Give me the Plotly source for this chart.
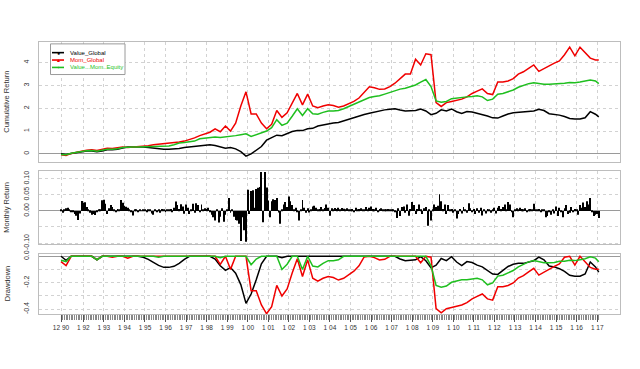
import numpy as np
import pandas as pd
import plotly.graph_objects as go

# ---------------- data ----------------
# cumulative returns, read at quarter ends (Dec 1990 ... Dec 2016) plus Feb 2017
value_global_cum = [0.00,
    -0.03, 0.02, 0.06, 0.08,
    0.12, 0.12, 0.09, 0.12,
    0.18, 0.18, 0.20, 0.26,
    0.30, 0.30, 0.31, 0.30,
    0.28, 0.25, 0.22, 0.20,
    0.20, 0.21, 0.24, 0.28,
    0.31, 0.33, 0.36, 0.38,
    0.40, 0.37, 0.30, 0.25,
    0.28, 0.22, 0.10, -0.10,
    0.00, 0.15, 0.32, 0.60,
    0.70, 0.82, 0.80, 0.90,
    0.98, 1.02, 1.02, 1.10,
    1.12, 1.22, 1.27, 1.33,
    1.35, 1.38, 1.45, 1.54,
    1.60, 1.68, 1.73, 1.78,
    1.84, 1.88, 1.93, 1.96,
    1.98, 1.92, 1.88, 1.89,
    1.90, 1.97, 1.88, 1.72,
    1.78, 1.93, 1.88, 1.97,
    1.85, 1.77, 1.86, 1.84,
    1.78, 1.74, 1.66, 1.58,
    1.57, 1.66, 1.75, 1.80,
    1.82, 1.82, 1.85, 1.88,
    1.96, 1.90, 1.76, 1.74,
    1.70, 1.64, 1.55, 1.53,
    1.53, 1.58, 1.85, 1.74,
    1.62]

mom_global_cum = [-0.04,
    -0.07, 0.02, 0.08, 0.12,
    0.16, 0.18, 0.15, 0.20,
    0.25, 0.24, 0.28, 0.30,
    0.28, 0.30, 0.30, 0.32,
    0.36, 0.40, 0.42, 0.44,
    0.46, 0.50, 0.52, 0.56,
    0.62, 0.70, 0.80, 0.86,
    0.95, 1.10, 0.97, 1.22,
    1.00, 1.35, 2.10, 2.72,
    1.75, 1.75, 1.35, 1.10,
    1.30, 1.90, 1.60, 1.80,
    2.25, 2.65, 2.15, 2.62,
    2.10, 2.02, 2.10, 2.15,
    2.12, 2.05, 2.10, 2.20,
    2.30, 2.45, 2.70, 2.94,
    2.90, 2.83, 2.85, 2.95,
    3.10, 3.29, 3.50, 3.50,
    4.15, 3.90, 4.39, 4.35,
    2.25, 2.08, 2.25, 2.30,
    2.35, 2.40, 2.50, 2.65,
    2.75, 2.85, 2.65, 2.60,
    3.15, 3.15, 3.20, 3.30,
    3.50, 3.60, 3.75, 3.90,
    3.62, 3.75, 3.85, 3.98,
    4.08, 4.35, 4.68, 4.30,
    4.68, 4.45, 4.20, 4.12,
    4.12]

value_mom_equity_cum = [-0.03,
    -0.04, 0.03, 0.08, 0.10,
    0.14, 0.15, 0.12, 0.16,
    0.20, 0.20, 0.22, 0.28,
    0.30, 0.30, 0.30, 0.31,
    0.32, 0.33, 0.32, 0.33,
    0.35, 0.40, 0.48, 0.50,
    0.52, 0.56, 0.66, 0.68,
    0.70, 0.74, 0.72, 0.74,
    0.78, 0.80, 0.84, 0.88,
    0.76, 0.84, 0.90, 1.00,
    1.15, 1.50, 1.25, 1.35,
    1.65, 1.98, 1.68, 1.98,
    1.76, 1.74, 1.82, 1.88,
    1.88, 1.90, 1.98, 2.08,
    2.20, 2.30, 2.40, 2.47,
    2.52, 2.55, 2.62, 2.70,
    2.78, 2.84, 2.88, 2.94,
    3.02, 3.15, 3.26, 2.95,
    2.32, 2.26, 2.30, 2.42,
    2.45, 2.50, 2.50, 2.52,
    2.55, 2.50, 2.34, 2.40,
    2.62, 2.65, 2.73, 2.80,
    2.92, 3.00, 3.08, 3.12,
    3.08, 3.05, 3.05, 3.06,
    3.10, 3.10, 3.13, 3.12,
    3.15, 3.18, 3.24, 3.20,
    3.08]

# monthly returns of Value_Global (Dec 1990 ... Feb 2017)
monthly_return = (
    [0.005] +
    [-0.006, 0.004, 0.008, 0.010, 0.004, -0.003, -0.002, -0.010, -0.015, -0.028, -0.008, 0.031] +  # 1991
    [0.025, 0.027, 0.012, 0.004, -0.006, -0.012, -0.010, -0.013, -0.004, 0.003, 0.002, 0.033] +    # 1992
    [0.035, 0.022, -0.010, 0.008, 0.018, 0.012, 0.005, -0.003, 0.006, 0.002, 0.034, 0.025] +      # 1993
    [0.016, 0.013, 0.010, 0.004, -0.002, -0.014, 0.003, 0.002, -0.003, 0.004, 0.001, 0.002] +     # 1994
    [0.002, -0.004, 0.003, 0.005, -0.008, -0.012, 0.004, -0.003, 0.002, -0.006, 0.006, 0.003] +   # 1995
    [-0.003, 0.004, 0.002, 0.006, -0.002, 0.010, 0.029, 0.018, 0.006, 0.021, 0.014, -0.009] +     # 1996
    [0.020, 0.010, -0.010, 0.005, 0.022, -0.006, 0.024, 0.018, -0.004, 0.020, 0.004, 0.008] +     # 1997
    [0.006, 0.010, -0.004, -0.012, -0.020, -0.030, 0.004, -0.036, -0.018, 0.008, -0.034, -0.012] + # 1998
    [0.004, 0.040, -0.006, 0.004, -0.018, -0.028, -0.030, -0.040, -0.094, -0.020, -0.060, -0.096] + # 1999
    [0.066, -0.010, 0.062, 0.064, 0.010, 0.068, 0.072, 0.074, 0.121, -0.035, 0.121, 0.073] +      # 2000
    [0.032, -0.020, 0.030, 0.036, 0.034, 0.040, -0.005, -0.040, 0.004, 0.020, 0.028, 0.012] +     # 2001
    [0.045, 0.030, 0.018, 0.005, 0.010, -0.004, -0.030, 0.004, 0.034, 0.010, -0.006, 0.008] +     # 2002
    [-0.005, 0.004, 0.014, 0.016, 0.010, 0.004, 0.006, 0.012, 0.003, 0.009, 0.020, 0.010] +      # 2003
    [-0.015, 0.008, 0.004, 0.009, 0.006, 0.010, 0.003, 0.009, 0.007, 0.002, 0.008, 0.005] +       # 2004
    [0.004, 0.006, -0.004, 0.010, 0.003, 0.006, 0.008, 0.002, 0.005, 0.012, 0.003, 0.010] +       # 2005
    [0.014, 0.006, 0.004, 0.010, -0.004, 0.006, 0.008, 0.003, 0.005, 0.004, 0.006, 0.002] +       # 2006
    [0.002, 0.004, -0.004, -0.022, 0.008, -0.016, 0.012, 0.014, -0.006, 0.020, -0.015, 0.006] +   # 2007
    [0.028, 0.018, -0.010, 0.006, 0.020, 0.004, -0.010, 0.008, 0.012, -0.046, 0.004, -0.030] +    # 2008
    [0.004, 0.020, 0.012, 0.016, 0.052, 0.030, 0.006, 0.020, -0.010, 0.018, 0.004, 0.006] +       # 2009
    [-0.006, 0.004, -0.024, -0.010, 0.006, -0.008, 0.012, 0.004, -0.006, 0.024, 0.008, -0.004] +  # 2010
    [0.006, -0.010, 0.008, -0.006, 0.010, -0.014, 0.004, -0.008, 0.006, 0.004, -0.006, 0.002] +   # 2011
    [0.010, -0.008, 0.010, 0.015, 0.006, 0.012, 0.020, 0.004, 0.028, 0.020, -0.004, -0.020] +     # 2012
    [0.004, 0.008, 0.002, 0.010, 0.006, 0.003, 0.008, -0.004, 0.005, 0.006, 0.002, 0.022] +       # 2013
    [0.004, 0.002, 0.006, -0.004, 0.003, 0.002, -0.020, -0.016, -0.004, -0.012, 0.004, -0.008] +  # 2014
    [0.014, -0.016, 0.010, -0.004, -0.020, 0.008, 0.018, -0.010, -0.006, 0.012, -0.004, 0.006] +  # 2015
    [0.004, -0.012, 0.018, 0.010, 0.026, 0.012, 0.030, 0.020, 0.040, -0.004, -0.016, -0.012] +   # 2016
    [-0.010, -0.022]                                                                              # 2017
)

series_names = ["Value_Global", "Mom_Global", "Value...Mom..Equity"]
series_colors = ["#000000", "#F00000", "#1FBF1F"]

x_tick_labels = ["12 90"] + ["1 %02d" % (y % 100) for y in range(1992, 2018)]

# ---------------- dates ----------------
q_dates = list(pd.date_range("1990-12-31", periods=105, freq=pd.offsets.MonthEnd(3)).strftime("%Y-%m-%d")) + ["2017-02-28"]
m_dates = list(pd.date_range("1990-12-31", periods=len(monthly_return), freq=pd.offsets.MonthEnd(1)).strftime("%Y-%m-%d"))
major_dates = ["1990-12-31"] + ["%d-01-31" % y for y in range(1992, 2018)]


def drawdown(cum):
    w = 1 + np.array(cum, dtype=float)
    peak = np.maximum.accumulate(np.maximum(w, 1.0))
    return w / peak - 1


cums = [value_global_cum, mom_global_cum, value_mom_equity_cum]

fig = go.Figure()
for name, col, c in zip(series_names, series_colors, cums):
    fig.add_trace(go.Scatter(x=q_dates, y=c, mode="lines", name=name,
                             line=dict(color=col, width=1.5), xaxis="x", yaxis="y"))
fig.add_trace(go.Bar(x=m_dates, y=monthly_return, marker=dict(color="black", line=dict(width=0)),
                     xaxis="x2", yaxis="y2"))
for name, col, c in zip(series_names, series_colors, cums):
    fig.add_trace(go.Scatter(x=q_dates, y=drawdown(c), mode="lines", name=name,
                             line=dict(color=col, width=1.5), xaxis="x3", yaxis="y3"))

xr = ["1989-12-05", "2018-03-12"]
xdom = [39 / 640, 620 / 640]
H = 369.0
FONT = "Liberation Sans, Arial, sans-serif"
grid = dict(showgrid=True, gridcolor="#d2d2d2", griddash="dot", gridwidth=1)
box = dict(showline=True, mirror=True, linecolor="#bdbdbd", linewidth=1)

common_x = dict(type="date", range=xr, domain=xdom, tickmode="array", tickvals=major_dates,
                zeroline=False, **grid, **box)

fig.update_layout(
    width=640, height=369, margin=dict(l=0, r=0, t=0, b=0),
    plot_bgcolor="white", paper_bgcolor="white", showlegend=False,
    font=dict(family=FONT, size=7, color="#333333"), bargap=0.4,
    xaxis=dict(anchor="y", showticklabels=False, ticks="", **common_x),
    xaxis2=dict(anchor="y2", showticklabels=False, ticks="", **common_x),
    xaxis3=dict(anchor="y3", ticktext=x_tick_labels, ticks="outside", ticklen=7, tickcolor="#555555",
                tickfont=dict(size=6.5, color="#333333"),
                minor=dict(tickvals=m_dates, ticks="outside", ticklen=5, tickcolor="#888888", showgrid=False),
                **common_x),
    yaxis=dict(domain=[1 - 162 / H, 1 - 39 / H], range=[-0.34, 4.91], tickmode="array",
               tickvals=[0, 1, 2, 3, 4], ticktext=["0", "1", "2", "3", "4"], tickangle=-90, ticks="",
               ticklabelstandoff=6, zeroline=True, zerolinecolor="#9a9a9a", zerolinewidth=1,
               tickfont=dict(size=7), **grid, **box),
    yaxis2=dict(domain=[1 - 247 / H, 1 - 172 / H], range=[-0.104, 0.123], tickmode="array",
                tickvals=[-0.10, -0.05, 0, 0.05, 0.10], ticktext=["-0.10", "", "0.00", "0.05", "0.10"],
                tickangle=-90, ticks="", ticklabelstandoff=6, zeroline=True, zerolinecolor="#9a9a9a",
                zerolinewidth=1, tickfont=dict(size=7), **grid, **box),
    yaxis3=dict(domain=[1 - 319 / H, 1 - 257 / H], range=[-0.44, 0.017], tickmode="array",
                tickvals=[-0.4, -0.3, -0.2, -0.1, 0.0], ticktext=["-0.4", "", "-0.2", "", "0.0"],
                tickangle=-90, ticks="", ticklabelstandoff=6, zeroline=True, zerolinecolor="#9a9a9a",
                zerolinewidth=1, tickfont=dict(size=7), **grid, **box),
)

# y axis titles
titles = [("Cumulative Return", (39 + 162) / 2), ("Monthly Return", (172 + 247) / 2), ("Drawdown", (257 + 319) / 2)]
for t, yc in titles:
    fig.add_annotation(text=t, x=7 / 640, y=1 - yc / H, xref="paper", yref="paper", textangle=-90,
                       showarrow=False, font=dict(size=7.5, color="#333333"), xanchor="center", yanchor="middle")

# legend
fig.add_shape(type="rect", xref="paper", yref="paper", x0=50.5 / 640, x1=125 / 640,
              y0=1 - 72.5 / H, y1=1 - 41 / H, line=dict(color="#9a9a9a", width=1), fillcolor="white")
symbols = ["\u25CF", "\u25B2", "+"]
for i, (name, col, sym) in enumerate(zip(series_names, series_colors, symbols)):
    yy = 1 - (50 + 7.6 * i) / H
    fig.add_shape(type="line", xref="paper", yref="paper", x0=52 / 640, x1=64 / 640, y0=yy, y1=yy,
                  line=dict(color=col, width=1.6))
    fig.add_annotation(text=sym, x=58 / 640, y=yy, xref="paper", yref="paper", showarrow=False,
                       font=dict(size=5, color=col), xanchor="center", yanchor="middle")
    fig.add_annotation(text=name, x=68 / 640, y=yy, xref="paper", yref="paper", showarrow=False,
                       font=dict(size=6, color=col), xanchor="left", yanchor="middle")

fig.write_html("out.html", config={"displayModeBar": False},
               post_script="document.body.style.margin='0';")
